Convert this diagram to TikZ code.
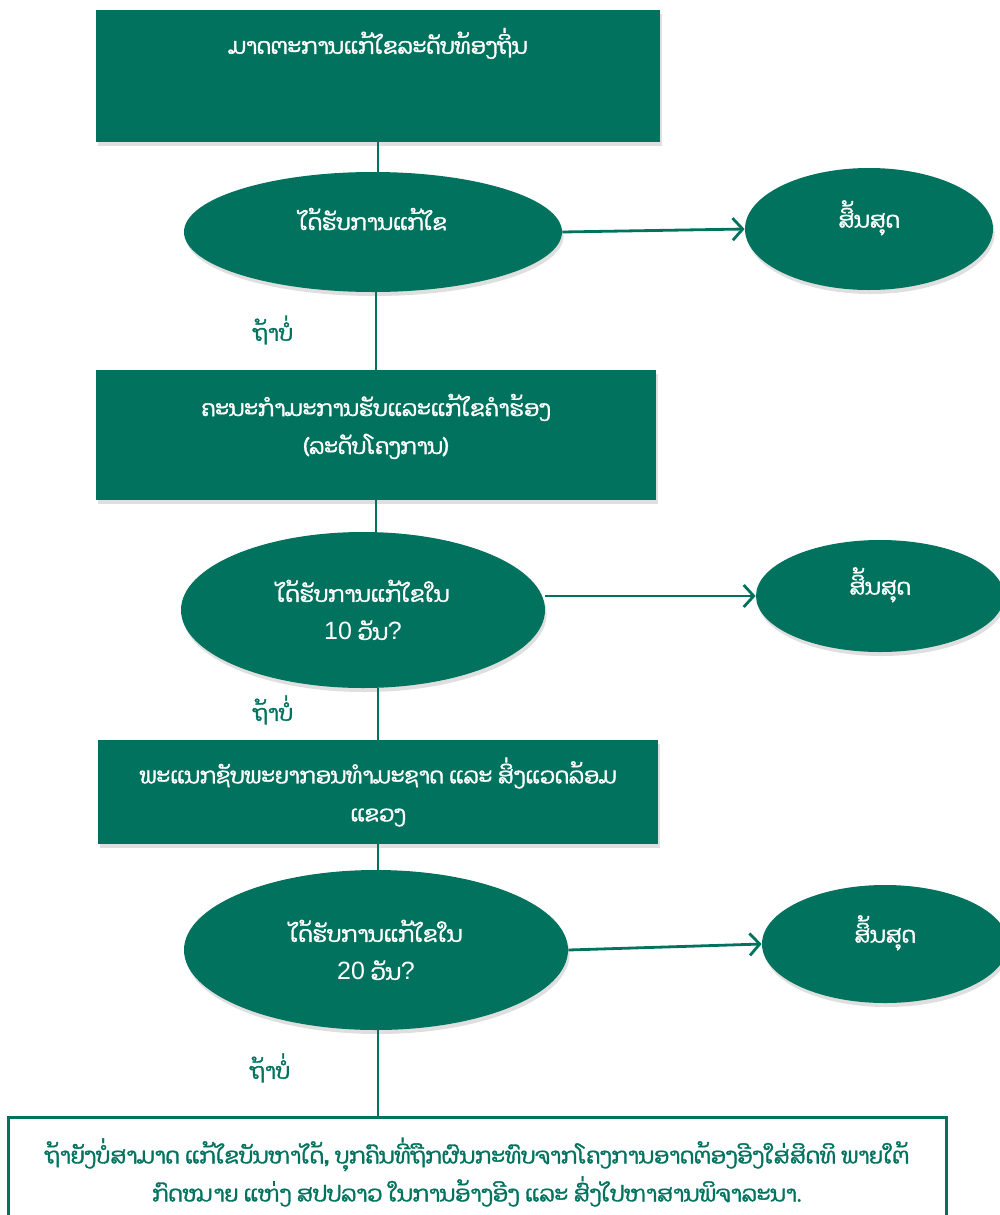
\documentclass[tikz,border=0pt]{standalone}
\usepackage{fontspec}
\usepackage{tikz}
\usetikzlibrary{shapes.geometric,arrows.meta,shadows}

\newfontfamily\laofont[Script=Lao, FakeBold=1.6]{Dhyana}
\newfontfamily\latinfont{Liberation Sans}
\newcommand{\digits}[1]{{\latinfont\fontsize{12.5}{19}\selectfont #1}}
\definecolor{laogreen}{RGB}{0,114,94}

\tikzset{
    greenbox/.style={rectangle, fill=laogreen, text=white, align=center,
        drop shadow={shadow xshift=0.8pt, shadow yshift=-2pt, fill=black!25}},
    greenell/.style={ellipse, fill=laogreen, text=white, align=center, inner sep=0pt,
        drop shadow={shadow xshift=0.8pt, shadow yshift=-2pt, fill=black!25}},
    noline/.style={text=laogreen},
    link/.style={draw=laogreen, line width=1.4pt},
    golink/.style={link, -{Straight Barb[length=5pt,width=11pt,line width=1.4pt]}}
}

\begin{document}
\begin{tikzpicture}[x=0.5pt, y=-0.5pt, font=\laofont\fontsize{11}{19}\selectfont]

    \useasboundingbox (0,0) rectangle (1000,1215);

    \node[greenbox, minimum width=282pt, minimum height=66pt, inner sep=0pt] (box1) at (378,76)
    {\parbox[c][66pt][t]{270pt}{\centering\vspace*{9pt}ມາດຕະການແກ້ໄຂລະດັບທ້ອງຖິ່ນ}};

    \node[greenell, minimum width=189pt, minimum height=60pt, text depth=13pt] (ell1) at (373,232) {ໄດ້ຮັບການແກ້ໄຂ};
    \node[greenell, minimum width=124pt, minimum height=61pt, text depth=15pt] (end1) at (869,229) {ສິ້ນສຸດ};
    \node[noline] (no1) at (273,330) {ຖ້າບໍ່};

    \node[greenbox, minimum width=280pt, minimum height=65pt, text depth=11pt] (box2) at (376,435)
    {ຄະນະກຳມະການຮັບແລະແກ້ໄຂຄຳຮ້ອງ\\(ລະດັບໂຄງການ)};

    \node[greenell, minimum width=182pt, minimum height=78pt] (ell2) at (363,610)
    {ໄດ້ຮັບການແກ້ໄຂໃນ\\\digits{10} ວັນ\digits{?}};
    \node[greenell, minimum width=124pt, minimum height=56pt, text depth=15pt] (end2) at (880,596) {ສິ້ນສຸດ};
    \node[noline] (no2) at (273,710) {ຖ້າບໍ່};

    \node[greenbox, minimum width=280pt, minimum height=52pt] (box3) at (378,792)
    {ພະແນກຊັບພະຍາກອນທຳມະຊາດ ແລະ ສິ່ງແວດລ້ອມ\\ແຂວງ};

    \node[greenell, minimum width=192pt, minimum height=80pt] (ell3) at (376,950)
    {ໄດ້ຮັບການແກ້ໄຂໃນ\\\digits{20} ວັນ\digits{?}};
    \node[greenell, minimum width=123pt, minimum height=59pt, text depth=15pt] (end3) at (885,944) {ສິ້ນສຸດ};
    \node[noline] (no3) at (270,1068) {ຖ້າບໍ່};

    \node[draw=laogreen, line width=1.5pt, fill=white, text=laogreen, align=center,
        minimum width=469pt, minimum height=55pt] (box4) at (477,1172)
    {ຖ້າຍັງບໍ່ສາມາດ ແກ້ໄຂບັນຫາໄດ້, ບຸກຄົນທີ່ຖືກຜົນກະທົບຈາກໂຄງການອາດຕ້ອງອີງໃສ່ສິດທິ ພາຍໃຕ້\\ກົດໝາຍ ແຫ່ງ ສປປລາວ ໃນການອ້າງອີງ ແລະ ສົ່ງໄປຫາສານພິຈາລະນາ.};

    \draw[link] (box1.south) -- (box1.south |- ell1.north);
    \draw[link] (box2.north |- ell1.south) -- (box2.north);
    \draw[link] (box2.south) -- (box2.south |- ell2.north);
    \draw[link] (box3.north |- ell2.south) -- (box3.north);
    \draw[link] (box3.south) -- (box3.south |- ell3.north);
    \draw[link] (box4.north -| box3.south) -- (box3.south |- ell3.south);

    \draw[golink] (ell1.east) -- (end1.west);
    \draw[golink] (end2.west -| ell2.east) -- (end2.west);
    \draw[golink] (ell3.east) -- (end3.west);
\end{tikzpicture}
\end{document}
